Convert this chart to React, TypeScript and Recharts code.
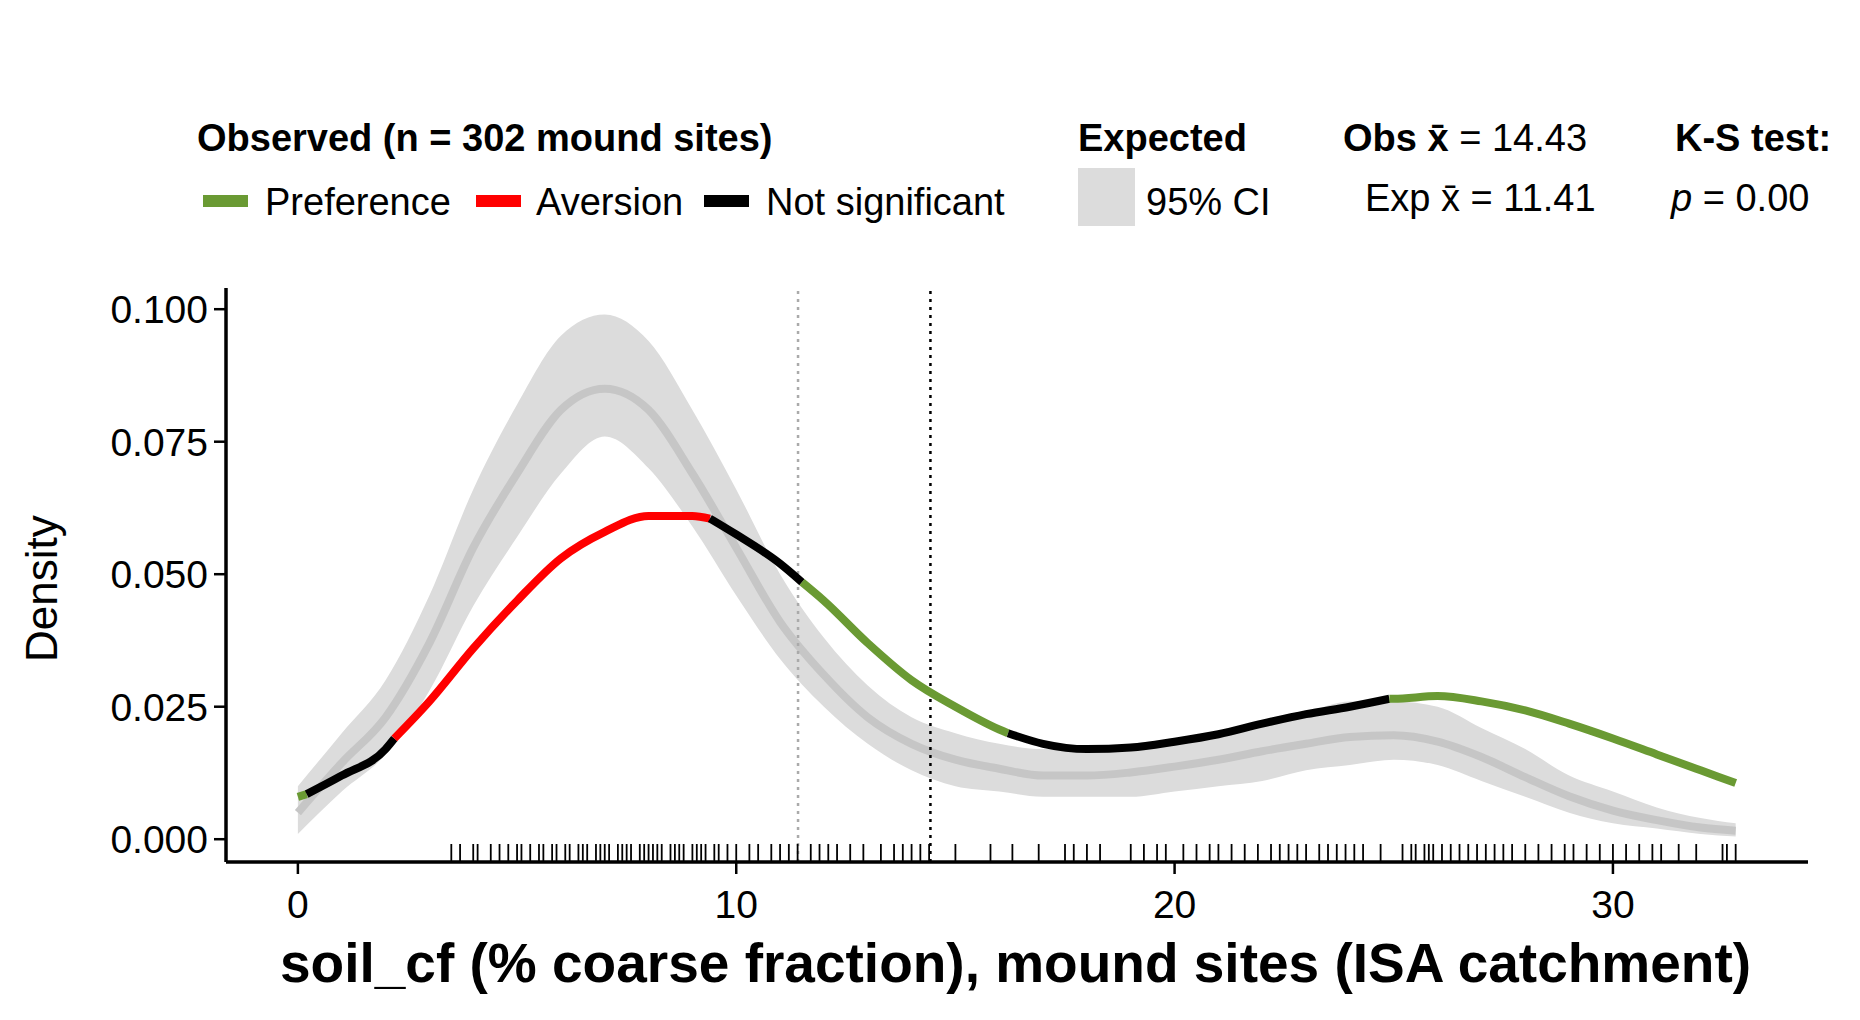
import React from 'react';
import {
  ComposedChart, Line, Area, Scatter, XAxis, YAxis, ReferenceLine,
} from 'recharts';

const xs = [0, 1, 2, 3, 4, 5, 6, 7, 8, 9, 10, 11, 12, 13, 14, 15, 16, 17, 18, 19, 20, 21, 22, 23, 24, 25, 26, 27, 28, 29, 30, 31, 32, 32.8];
const observed = [0.008, 0.012, 0.017, 0.026, 0.036, 0.045, 0.053, 0.058, 0.061, 0.061, 0.0575, 0.052, 0.045, 0.037, 0.030, 0.025, 0.0207, 0.018, 0.017, 0.0173, 0.0184, 0.0198, 0.0218, 0.0236, 0.025, 0.0265, 0.027, 0.026, 0.0243, 0.0218, 0.019, 0.016, 0.013, 0.0106];
const expected = [0.005, 0.0144, 0.023, 0.037, 0.055, 0.069, 0.081, 0.085, 0.081, 0.069, 0.055, 0.041, 0.031, 0.023, 0.018, 0.015, 0.0133, 0.012, 0.012, 0.0126, 0.0137, 0.015, 0.0166, 0.018, 0.0193, 0.0196, 0.0184, 0.0155, 0.0117, 0.0081, 0.0054, 0.0036, 0.0022, 0.0016];
const ciLow = [0.001, 0.009, 0.016, 0.028, 0.044, 0.057, 0.069, 0.076, 0.070, 0.059, 0.046, 0.034, 0.025, 0.018, 0.013, 0.010, 0.009, 0.008, 0.008, 0.008, 0.009, 0.010, 0.011, 0.013, 0.014, 0.015, 0.014, 0.011, 0.008, 0.005, 0.003, 0.002, 0.001, 0.0005];
const ciHigh = [0.010, 0.020, 0.030, 0.046, 0.066, 0.082, 0.095, 0.099, 0.094, 0.081, 0.066, 0.050, 0.038, 0.029, 0.023, 0.020, 0.018, 0.017, 0.017, 0.018, 0.019, 0.020, 0.022, 0.024, 0.026, 0.026, 0.025, 0.021, 0.017, 0.012, 0.009, 0.006, 0.004, 0.003];

// where the observed curve changes significance class
const breakX = [0.2, 2.2, 9.4, 11.5, 16.2, 24.9];
const breakY = [0.0085, 0.019, 0.0605, 0.0485, 0.020, 0.0265];
const segColors = ['#6a9a33', '#000000', '#ff0000', '#000000', '#6a9a33', '#000000', '#6a9a33'];

const rug = [
  3.5, 3.7, 4.0, 4.1, 4.4, 4.6, 4.8, 5.0, 5.1, 5.3, 5.5, 5.6, 5.8, 5.9, 6.1, 6.2, 6.4, 6.5, 6.6, 6.8, 6.9, 7.0, 7.1,
  7.3, 7.4, 7.5, 7.6, 7.8, 7.9, 8.0, 8.1, 8.2, 8.3, 8.5, 8.6, 8.7, 8.8, 9.0, 9.1, 9.2, 9.3, 9.5, 9.6, 9.8, 10.0,
  10.3, 10.5, 10.8, 11.0, 11.2, 11.4, 11.7, 11.9, 12.1, 12.3, 12.6, 12.9, 13.3, 13.6, 13.8, 14.0, 14.2, 14.4,
  15.0, 15.8, 16.3, 16.9, 17.5, 17.7, 18.0, 18.3, 19.0, 19.3, 19.6, 19.8, 20.2, 20.5, 20.8, 21.0, 21.3, 21.6,
  21.9, 22.2, 22.4, 22.6, 22.8, 23.0, 23.3, 23.5, 23.7, 23.9, 24.1, 24.3, 24.7, 25.2, 25.4, 25.5, 25.7, 25.8,
  25.9, 26.1, 26.3, 26.5, 26.7, 26.9, 27.1, 27.3, 27.5, 27.7, 28.0, 28.3, 28.6, 28.9, 29.1, 29.4, 29.7, 30.0,
  30.3, 30.6, 30.9, 31.1, 31.5, 31.9, 32.5, 32.6, 32.8,
];

const xTicks = [0, 10, 20, 30];
const yTicks = [0, 0.025, 0.05, 0.075, 0.1];

type Row = { x: number; exp?: number; band?: [number, number]; [k: string]: any };

const rows: Row[] = xs.map((x, i) => ({ x, obs: observed[i], exp: expected[i], band: [ciLow[i], ciHigh[i]] as [number, number] }));
breakX.forEach((x, i) => rows.push({ x, obs: breakY[i] }));
rows.sort((a, b) => a.x - b.x);
const edges = [-Infinity, ...breakX, Infinity];
rows.forEach((r) => {
  segColors.forEach((_, s) => {
    if (r.x >= edges[s] - 1e-9 && r.x <= edges[s + 1] + 1e-9) r['seg' + s] = r.obs;
  });
});

const rugData = rug.map((x) => ({ x, y: -0.0009 }));

const RugTick = (props: any) => (
  <line x1={props.cx} x2={props.cx} y1={props.cy} y2={props.cy + 17} stroke="#000" strokeWidth={1.8} />
);

const font = '"Liberation Sans", Arial, sans-serif';
const lbl: React.CSSProperties = { position: 'absolute', fontSize: 38, fontFamily: font, whiteSpace: 'nowrap', lineHeight: 1, color: '#000' };

export default function App() {
  return (
    <div style={{ position: 'absolute', left: 0, top: 0, width: 1860, height: 1020, background: '#fff' }}>
      <ComposedChart width={1860} height={1020} data={rows} margin={{ top: 288, right: 52, left: 0, bottom: 0 }}>
        <XAxis
          dataKey="x" type="number" domain={[-1.64, 34.45]} ticks={xTicks} allowDataOverflow
          axisLine={{ stroke: '#000', strokeWidth: 3.5 }} tickLine={{ stroke: '#000', strokeWidth: 2.5 }} tickSize={12}
          tick={{ fill: '#000', fontSize: 39, fontFamily: font, dy: 14 }} height={158}
        />
        <YAxis
          type="number" domain={[-0.0043, 0.104]} ticks={yTicks} allowDataOverflow width={226}
          tickFormatter={(v: number) => v.toFixed(3)}
          axisLine={{ stroke: '#000', strokeWidth: 3.5 }} tickLine={{ stroke: '#000', strokeWidth: 2.5 }} tickSize={12}
          tick={{ fill: '#000', fontSize: 39, fontFamily: font, dx: -4 }}
        />
        <Area type="monotone" dataKey="band" stroke="none" fill="#dcdcdc" fillOpacity={1} connectNulls isAnimationActive={false} />
        <Line type="monotone" dataKey="exp" stroke="#c6c6c6" strokeWidth={8} dot={false} connectNulls isAnimationActive={false} />
        <ReferenceLine x={11.41} stroke="#aaaaaa" strokeWidth={2.5} strokeDasharray="3 5" />
        <ReferenceLine x={14.43} stroke="#000" strokeWidth={2.5} strokeDasharray="3 5" />
        {segColors.map((c, s) => (
          <Line key={s} type="monotone" dataKey={'seg' + s} stroke={c} strokeWidth={8} dot={false} isAnimationActive={false} />
        ))}
        <Scatter data={rugData} dataKey="y" shape={RugTick} isAnimationActive={false} />
      </ComposedChart>

      <div style={{ ...lbl, left: 20, fontSize: 44, transform: 'rotate(-90deg)', transformOrigin: 'left top', top: 662 }}>Density</div>
      <div style={{ ...lbl, left: 280, top: 936, fontSize: 55, fontWeight: 'bold' }}>
        soil_cf (% coarse fraction), mound sites (ISA catchment)
      </div>

      <div style={{ ...lbl, left: 197, top: 119, fontWeight: 'bold' }}>Observed (n = 302 mound sites)</div>
      <div style={{ position: 'absolute', left: 203, top: 195, width: 45, height: 12, background: '#6a9a33' }} />
      <div style={{ ...lbl, left: 265, top: 183 }}>Preference</div>
      <div style={{ position: 'absolute', left: 476, top: 195, width: 45, height: 12, background: '#ff0000' }} />
      <div style={{ ...lbl, left: 536, top: 183 }}>Aversion</div>
      <div style={{ position: 'absolute', left: 704, top: 195, width: 45, height: 12, background: '#000' }} />
      <div style={{ ...lbl, left: 766, top: 183 }}>Not significant</div>

      <div style={{ ...lbl, left: 1078, top: 119, fontWeight: 'bold' }}>Expected</div>
      <div style={{ position: 'absolute', left: 1078, top: 168, width: 57, height: 58, background: '#dcdcdc' }} />
      <div style={{ ...lbl, left: 1146, top: 183 }}>95% CI</div>

      <div style={{ ...lbl, left: 1343, top: 119 }}><b>Obs x̄</b> = 14.43</div>
      <div style={{ ...lbl, left: 1365, top: 179 }}>Exp x̄ = 11.41</div>
      <div style={{ ...lbl, left: 1675, top: 119, fontWeight: 'bold' }}>K-S test:</div>
      <div style={{ ...lbl, left: 1671, top: 179 }}><i>p</i> = 0.00</div>
    </div>
  );
}
